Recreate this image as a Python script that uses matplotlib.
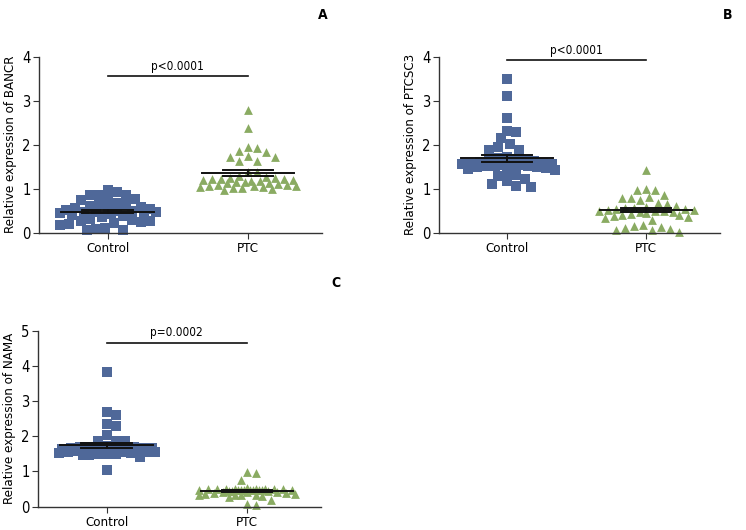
import matplotlib
matplotlib.use('Agg')
import matplotlib.pyplot as plt
import numpy as np

# valores
groups = ['Control', 'PTC']

bancr_control = [0.97, 0.93, 0.86, 0.86, 0.86, 0.76, 0.76, 0.74, 0.68, 0.65,
                 0.63, 0.60, 0.58, 0.56, 0.55, 0.54, 0.52, 0.50, 0.50, 0.48,
                 0.47, 0.46, 0.45, 0.44, 0.42, 0.40, 0.38, 0.36, 0.30, 0.28,
                 0.27, 0.26, 0.24, 0.22, 0.20, 0.18, 0.10, 0.08, 0.07, 0.06]
bancr_ptc = [2.78, 2.38, 1.95, 1.92, 1.86, 1.84, 1.74, 1.73, 1.72, 1.64,
             1.63, 1.38, 1.37, 1.28, 1.26, 1.25, 1.24, 1.23, 1.22, 1.21,
             1.20, 1.19, 1.18, 1.17, 1.16, 1.15, 1.14, 1.13, 1.10, 1.09,
             1.08, 1.07, 1.06, 1.05, 1.04, 1.03, 1.02, 1.01, 1.00, 0.96]

ptcsc3_control = [3.49, 3.10, 2.60, 2.32, 2.28, 2.15, 2.02, 1.95, 1.88, 1.87,
                  1.72, 1.70, 1.68, 1.66, 1.65, 1.62, 1.60, 1.58, 1.57, 1.56,
                  1.55, 1.54, 1.53, 1.52, 1.51, 1.54, 1.52, 1.50, 1.49, 1.46,
                  1.45, 1.42, 1.40, 1.30, 1.28, 1.22, 1.18, 1.10, 1.06, 1.03]
ptcsc3_ptc = [1.42, 1.00, 0.97, 0.96, 0.85, 0.80, 0.79, 0.78, 0.75, 0.67,
              0.65, 0.60, 0.59, 0.56, 0.55, 0.54, 0.53, 0.52, 0.51, 0.50,
              0.50, 0.49, 0.48, 0.46, 0.44, 0.42, 0.41, 0.40, 0.38, 0.36,
              0.34, 0.28, 0.18, 0.15, 0.14, 0.10, 0.09, 0.07, 0.06, 0.02]

nama_control = [3.82, 2.70, 2.60, 2.35, 2.28, 2.03, 1.87, 1.87, 1.86, 1.72,
                1.71, 1.70, 1.69, 1.68, 1.67, 1.66, 1.65, 1.64, 1.63, 1.62,
                1.61, 1.60, 1.60, 1.59, 1.58, 1.57, 1.56, 1.55, 1.55, 1.54,
                1.53, 1.52, 1.51, 1.50, 1.50, 1.49, 1.48, 1.47, 1.42, 1.03]
nama_ptc = [0.98, 0.97, 0.75, 0.52, 0.51, 0.51, 0.50, 0.50, 0.50, 0.49,
            0.49, 0.49, 0.48, 0.48, 0.48, 0.48, 0.47, 0.47, 0.47, 0.46,
            0.46, 0.45, 0.45, 0.44, 0.43, 0.42, 0.41, 0.40, 0.38, 0.37,
            0.36, 0.34, 0.33, 0.33, 0.32, 0.30, 0.28, 0.20, 0.07, 0.05]

BLUE = '#4f6899'
GREEN = '#8aab62'

plt.rcParams['font.family'] = ['DejaVu Sans']
plt.rcParams['font.stretch'] = 'condensed'


def swarm(vals, ppx, ppy, size=9.0, step=3.0, maxw=50.0):
    """Desplazamientos x (unidades de datos) tipo beeswarm, ancho limitado"""
    vals = np.asarray(vals)
    order = np.argsort(-vals)
    placed = []
    offs = np.zeros(len(vals))
    cands = [0.0]
    k = 1
    while k * step <= maxw:
        cands += [k * step, -k * step]
        k += 1
    for i in order:
        y = vals[i] * ppy
        best, bestd = 0.0, -1
        for c in cands:
            d = min([np.hypot(c - px, y - py) for px, py in placed] or [1e9])
            if d >= size:
                best = c
                break
            if d > bestd + 0.5:
                best, bestd = c, d
        placed.append((best, y))
        offs[i] = best / ppx
    return offs


def panel(ax, ctrl, ptc, ylabel, ymax, pline, ptext, ppy):
    ppx = 140.0
    for i, (vals, mk, col) in enumerate([(ctrl, 's', BLUE), (ptc, '^', GREEN)]):
        offs = swarm(vals, ppx, ppy)
        ax.scatter(i + offs, vals, marker=mk, s=44 if mk == 's' else 40,
                   color=col, linewidths=0, zorder=2, clip_on=False)
        m = np.mean(vals)
        sem = np.std(vals, ddof=1) / np.sqrt(len(vals))
        ax.plot([i - 0.33, i + 0.33], [m, m], color='#111111', lw=1.4, zorder=3)
        for yy in (m - sem, m + sem):
            ax.plot([i - 0.18, i + 0.18], [yy, yy], color='#111111', lw=1.4, zorder=3)
        ax.plot([i, i], [m - sem, m + sem], color='#111111', lw=1.4, zorder=3)

    ax.plot([0, 1], [pline, pline], color='#111111', lw=1.2, clip_on=False)
    ax.text(0.5, pline + 0.08 * ymax / 4, ptext, ha='center', va='bottom',
            fontsize=8.5, clip_on=False)

    ax.set_xlim(-0.49, 1.53)
    ax.set_ylim(0, ymax)
    ax.set_yticks(range(0, ymax + 1))
    ax.set_xticks([0, 1])
    ax.set_xticklabels(groups)
    ax.set_ylabel(ylabel, fontsize=9.5, labelpad=4)
    ax.spines['top'].set_visible(False)
    ax.spines['right'].set_visible(False)
    for s in ('left', 'bottom'):
        ax.spines[s].set_color('#333333')
        ax.spines[s].set_linewidth(1.0)
    ax.tick_params(axis='y', labelsize=10.5, length=4, color='#333333', pad=2)
    ax.tick_params(axis='x', labelsize=9.5, length=4, color='#333333', pad=3)


fig = plt.figure(figsize=(7.46, 5.30), dpi=100)

ax1 = fig.add_axes([0.0523, 0.561, 0.3793, 0.332])
panel(ax1, bancr_control, bancr_ptc, 'Relative expression of BANCR', 4, 3.56, 'p<0.0001', 44.0)

ax2 = fig.add_axes([0.5885, 0.561, 0.3767, 0.332])
panel(ax2, ptcsc3_control, ptcsc3_ptc, 'Relative expression of PTCSC3', 4, 3.92, 'p<0.0001', 44.0)

ax3 = fig.add_axes([0.0509, 0.044, 0.3794, 0.332])
panel(ax3, nama_control, nama_ptc, 'Relative expression of NAMA', 5, 4.66, 'p=0.0002', 35.2)

fig.text(323 / 746, 1 - 15 / 530, 'A', fontsize=10, fontweight='bold', ha='center', va='center')
fig.text(728 / 746, 1 - 15 / 530, 'B', fontsize=10, fontweight='bold', ha='center', va='center')
fig.text(336 / 746, 1 - 283 / 530, 'C', fontsize=10, fontweight='bold', ha='center', va='center')

plt.savefig('out.png', dpi=100)
plt.close()
